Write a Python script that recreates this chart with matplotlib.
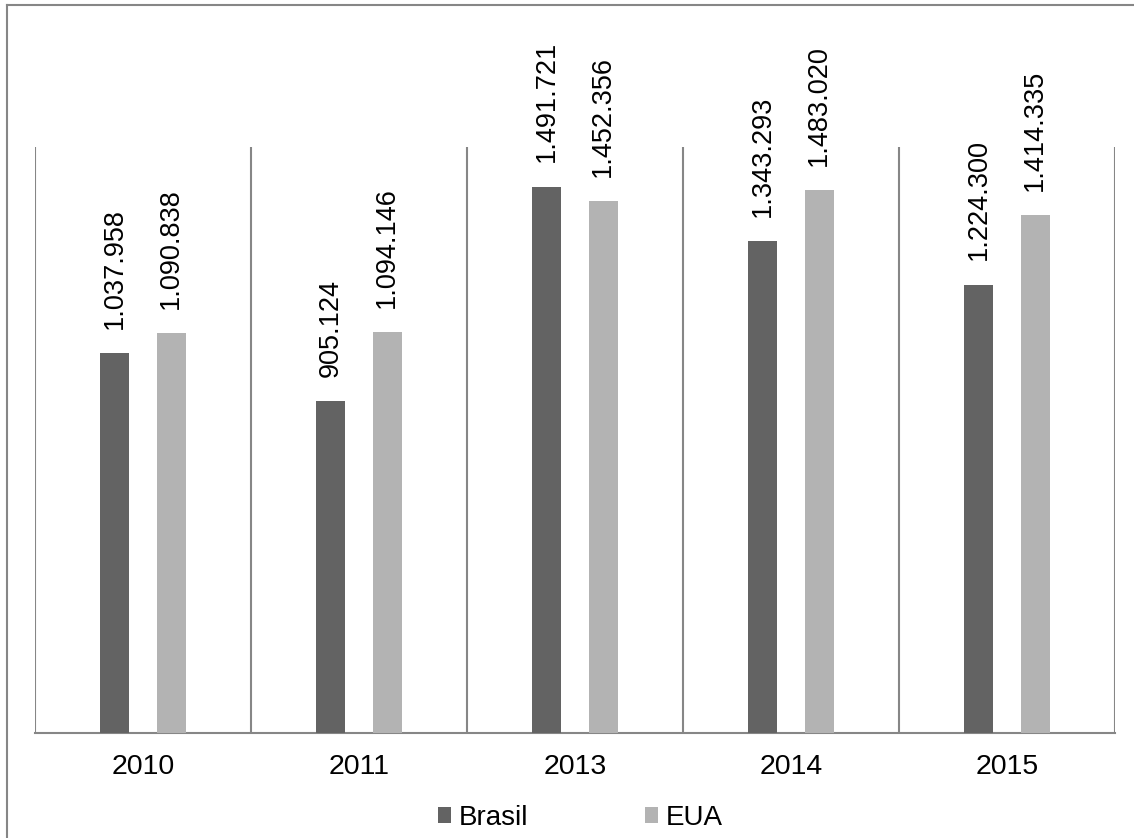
import matplotlib
matplotlib.use("Agg")
import matplotlib.pyplot as plt
from matplotlib.lines import Line2D
from matplotlib.patches import Patch
import numpy as np

years = ["2010", "2011", "2013", "2014", "2015"]
brasil = [1037958, 905124, 1491721, 1343293, 1224300]
eua = [1090838, 1094146, 1452356, 1483020, 1414335]
series_names = ["Brasil", "EUA"]
colors = ["#636363", "#b3b3b3"]
grid_color = "#868686"

plt.rcParams["font.family"] = ["Liberation Sans", "DejaVu Sans"]

W, H = 1134, 838
fig = plt.figure(figsize=(W / 100, H / 100), dpi=100)
ax = fig.add_axes([35 / W, (H - 733) / H, (1115 - 35) / W, (733 - 147) / H])

x = np.arange(len(years))
bw = 0.134
offset = 0.13


def fmt(v):
    return f"{v:,}".replace(",", ".")


for vals, shift, col in ((brasil, -offset, colors[0]), (eua, offset, colors[1])):
    bars = ax.bar(x + shift, vals, width=bw, color=col, zorder=3)
    for b, v in zip(bars, vals):
        ax.annotate(fmt(v), (b.get_x() + b.get_width() / 2, v),
                    xytext=(0, 17.5), textcoords="offset points",
                    rotation=90, ha="center", va="bottom",
                    fontsize=19.5, color="#000000")

ax.set_xlim(-0.5, len(years) - 0.5)
ax.set_ylim(0, 1600000)

# category separators
for b in np.arange(-0.5, len(years), 1.0):
    ax.axvline(b, color=grid_color, lw=1.5, zorder=1)

for s in ["top", "right", "left"]:
    ax.spines[s].set_visible(False)
ax.spines["bottom"].set_color(grid_color)
ax.spines["bottom"].set_linewidth(1.5)
ax.set_yticks([])
ax.set_xticks(x)
ax.set_xticklabels(years, fontsize=20.5)
ax.tick_params(axis="x", length=0, pad=15)

handles = [Patch(facecolor=c, edgecolor="none") for c in colors]
fig.legend(handles, series_names, loc="center", bbox_to_anchor=(580 / W, 1 - 818 / H),
           ncol=2, frameon=False, fontsize=20, handlelength=0.5, handleheight=0.5,
           handletextpad=0.25, columnspacing=4.2, borderpad=0)

# outer frame (top and left edges)
fig.add_artist(Line2D([7 / W, 1.0], [1 - 5.5 / H, 1 - 5.5 / H], color=grid_color, lw=1.5))
fig.add_artist(Line2D([7 / W, 7 / W], [0, 1 - 5.5 / H], color=grid_color, lw=1.5))

fig.savefig("out.png", dpi=100, facecolor="white")
